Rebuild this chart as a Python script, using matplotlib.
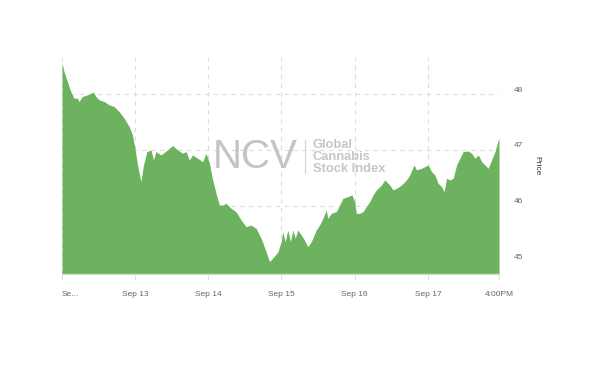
import matplotlib
matplotlib.use("Agg")
import matplotlib.pyplot as plt
import matplotlib.transforms as mtransforms

# time in days since the start of the window (Sep 12), price values
t_days = [0.0, 0.027, 0.073, 0.119, 0.164, 0.21, 0.233, 0.278, 0.347, 0.429,
          0.462, 0.507, 0.575, 0.644, 0.712, 0.781, 0.849, 0.918, 0.963, 0.996,
          1.032, 1.078, 1.114, 1.16, 1.215, 1.251, 1.284, 1.352, 1.442, 1.511,
          1.579, 1.648, 1.695, 1.74, 1.785, 1.853, 1.922, 1.968, 2.014, 2.059,
          2.105, 2.151, 2.196, 2.242, 2.311, 2.379, 2.448, 2.516, 2.585, 2.653,
          2.722, 2.79, 2.836, 2.881, 2.949, 2.996, 3.018, 3.051, 3.086, 3.123,
          3.155, 3.188, 3.223, 3.27, 3.315, 3.36, 3.407, 3.475, 3.521, 3.566,
          3.612, 3.634, 3.681, 3.749, 3.795, 3.84, 3.908, 3.963, 4.0, 4.023,
          4.068, 4.114, 4.16, 4.205, 4.251, 4.297, 4.366, 4.411, 4.479, 4.525,
          4.571, 4.64, 4.708, 4.753, 4.812, 4.845, 4.914, 5.004, 5.051, 5.096,
          5.141, 5.188, 5.223, 5.256, 5.301, 5.347, 5.393, 5.438, 5.484, 5.553,
          5.599, 5.644, 5.689, 5.736, 5.781, 5.826, 5.863, 5.918, 5.963, 5.973]
price = [48.56, 48.41, 48.23, 48.05, 47.93, 47.93, 47.87, 47.96, 47.99, 48.04,
         47.96, 47.90, 47.87, 47.81, 47.78, 47.69, 47.57, 47.42, 47.27, 47.03,
         46.73, 46.43, 46.73, 46.97, 47.00, 46.82, 46.97, 46.91, 47.00, 47.08,
         47.00, 46.94, 46.97, 46.82, 46.91, 46.85, 46.79, 46.94, 46.77, 46.46,
         46.22, 46.01, 46.01, 46.04, 45.95, 45.89, 45.74, 45.62, 45.65, 45.59,
         45.41, 45.17, 44.99, 45.06, 45.16, 45.35, 45.53, 45.35, 45.56, 45.35,
         45.56, 45.41, 45.56, 45.47, 45.38, 45.26, 45.35, 45.56, 45.65, 45.77,
         45.92, 45.77, 45.86, 45.89, 46.01, 46.13, 46.16, 46.19, 46.07, 45.86,
         45.86, 45.89, 45.98, 46.07, 46.19, 46.28, 46.37, 46.46, 46.37, 46.28,
         46.31, 46.37, 46.46, 46.55, 46.73, 46.64, 46.67, 46.73, 46.61, 46.55,
         46.40, 46.34, 46.25, 46.49, 46.46, 46.49, 46.73, 46.85, 46.97, 46.98,
         46.94, 46.85, 46.91, 46.79, 46.73, 46.67, 46.79, 46.97, 47.18, 47.21]

x_ticks = [0, 1, 2, 3, 4, 5, 5.973]
x_labels = ["Se...", "Sep 13", "Sep 14", "Sep 15", "Sep 16", "Sep 17", "4:00PM"]
y_ticks = [45, 46, 47, 48]
y_labels = ["45", "46", "47", "48"]
y_title = "Price"
watermark_big = "NCV"
watermark_small = "Global\nCannabis\nStock Index"

plt.rcParams['font.family'] = ['Liberation Sans', 'DejaVu Sans']

fig = plt.figure(figsize=(6.0, 3.66), dpi=100)
fig.patch.set_facecolor("white")
ax = fig.add_axes([62/600, 1-274/366, 437/600, (274-57)/366])

ymin = 44.77
ax.fill_between(t_days, price, ymin, color="#6cb25f", linewidth=0, zorder=2)

ax.set_xlim(0, 5.973)
ax.set_ylim(ymin, 48.67)

ax.set_xticks(x_ticks)
ax.set_xticklabels(x_labels)
ax.set_yticks(y_ticks)
ax.set_yticklabels(y_labels)

ax.grid(True, color="#dcdcdc", linestyle=(0, (4, 4)), linewidth=0.8, zorder=0)
ax.set_axisbelow(True)

for s in ["left", "top", "right"]:
    ax.spines[s].set_visible(False)
ax.spines["bottom"].set_color("#cfe3c9")
ax.spines["bottom"].set_linewidth(1.0)
ax.spines["bottom"].set_zorder(3)

ax.yaxis.tick_right()
ax.tick_params(axis="y", length=0, pad=11, labelsize=6, labelcolor="#666666")
ax.tick_params(axis="x", length=4, width=0.6, color="#d8d8d8", pad=8,
               labelsize=6, labelcolor="#666666")

labels = ax.get_xticklabels()
labels[0].set_horizontalalignment("left")

offset = mtransforms.ScaledTranslation(0, 5/100, fig.dpi_scale_trans)
for lbl in ax.get_yticklabels():
    lbl.set_transform(lbl.get_transform() + offset)

ax.yaxis.set_label_position("right")
ax.set_ylabel(y_title, rotation=270, fontsize=6, color="#333333", labelpad=12)

# watermark
fig.text(255/600, 1-157/366, watermark_big, fontsize=29, color="#c4c4c4",
         ha="center", va="center", fontweight="normal", zorder=5)
fig.add_artist(plt.Line2D([305/600, 305/600], [1-140/366, 1-173/366],
                          color="#d2d2d2", linewidth=0.8, transform=fig.transFigure))
fig.text(313/600, 1-157/366, watermark_small, fontsize=9.3, color="#c6c6c6",
         ha="left", va="center", fontweight="bold", linespacing=0.95)

fig.savefig("out.png", dpi=100, facecolor="white")
